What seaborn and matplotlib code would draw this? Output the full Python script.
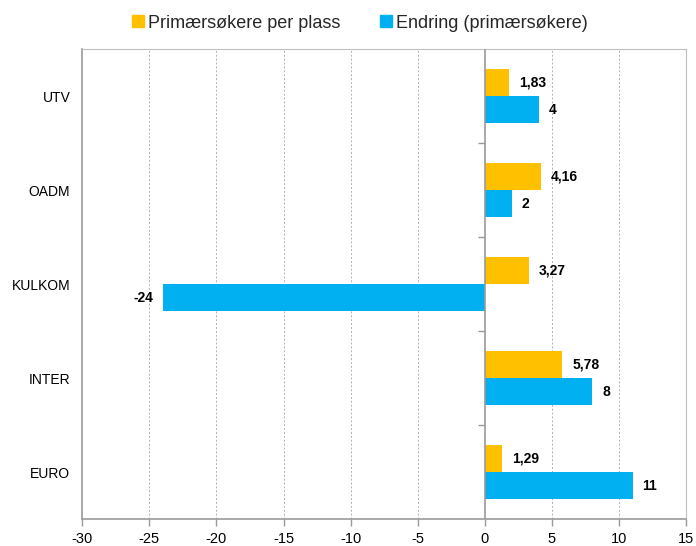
import pandas as pd
import numpy as np
import matplotlib.pyplot as plt
import seaborn as sns
from matplotlib.lines import Line2D

sns.set_theme(style="white")
plt.rcParams['font.family'] = ['Liberation Sans', 'DejaVu Sans']

# data
programmes = ["UTV", "OADM", "KULKOM", "INTER", "EURO"]
per_plass = [1.83, 4.16, 3.27, 5.78, 1.29]
endring = [4, 2, -24, 8, 11]
series_names = ["Primærsøkere per plass", "Endring (primærsøkere)"]
colors = ["#FFC000", "#00B0F0"]
xticks = [-30, -25, -20, -15, -10, -5, 0, 5, 10, 15]

df = pd.DataFrame({
    "program": programmes * 2,
    "serie": [series_names[0]] * 5 + [series_names[1]] * 5,
    "verdi": per_plass + endring,
})

fig = plt.figure(figsize=(6.96, 5.46), dpi=100)
ax = fig.add_axes([0.118, 0.049, 0.868, 0.861])

sns.barplot(data=df, y="program", x="verdi", hue="serie", order=programmes,
            hue_order=series_names, palette=colors, orient="h", width=0.57,
            gap=0, saturation=1, linewidth=0, edgecolor="none", ax=ax, legend=False)

# value labels
lab_yellow = [f"{v:.2f}".replace(".", ",") for v in per_plass]
lab_blue = [str(v) for v in endring]
for cont, labs in zip(ax.containers, [lab_yellow, lab_blue]):
    ax.bar_label(cont, labels=labs, padding=7, fontsize=10, fontweight="bold", color="black")

ax.set_xlim(-30, 15)
ax.set_ylim(4.5, -0.5)
ax.set_xticks(xticks)
ax.set_xticklabels([str(t) for t in xticks], fontsize=10.5, color="black")
ax.set_xlabel("")
ax.set_ylabel("")
ax.tick_params(axis="y", length=0, pad=8.5, labelsize=10, labelcolor="black")
ax.tick_params(axis="x", bottom=True, length=5, width=1, color="#999999", pad=4)

for x in xticks[1:-1]:
    if x != 0:
        ax.axvline(x, color="#b0b0b0", lw=0.7, ls=(0, (2, 2)), zorder=0)
ax.axvline(0, color="#999999", lw=1.2, zorder=3)

for side in ["left", "bottom"]:
    ax.spines[side].set_color("#999999")
    ax.spines[side].set_linewidth(1.2)
for side in ["top", "right"]:
    ax.spines[side].set_color("#c0c0c0")
    ax.spines[side].set_linewidth(0.8)

# tick marks between categories on the zero line
sec = ax.secondary_yaxis(0, transform=ax.transData)
sec.set_yticks([0.5, 1.5, 2.5, 3.5])
sec.set_yticklabels([])
sec.tick_params(length=5, width=1, color="#999999")
sec.spines["left"].set_visible(False)

handles = [Line2D([], [], marker="s", ls="", markersize=8, color=c) for c in colors]
fig.legend(handles, series_names, loc="upper center", bbox_to_anchor=(0.515, 1.003),
           ncol=2, frameon=False, fontsize=13, handletextpad=0.05,
           columnspacing=2.0, handlelength=1.0)

fig.savefig("out.png", dpi=100)
